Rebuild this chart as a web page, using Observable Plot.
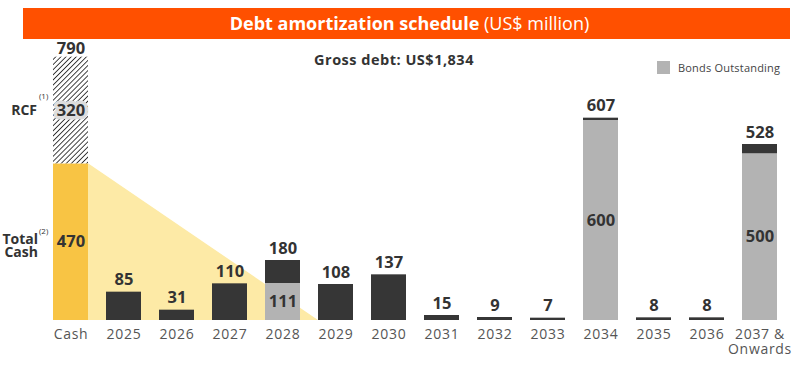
<!DOCTYPE html>
<html>
<head>
<meta charset="utf-8">
<script src="https://cdn.jsdelivr.net/npm/d3@7"></script>
<script src="https://cdn.jsdelivr.net/npm/@observablehq/plot@0.6"></script>
<style>
  html, body { margin: 0; padding: 0; background: #fff; }
  #wrap { position: relative; width: 803px; height: 367px; font-family: "Open Sans", sans-serif; }
  #banner { position: absolute; left: 23px; top: 8px; width: 767px; height: 31px; background: #FF5000;
            color: #fff; font-size: 18px; line-height: 31px; text-align: center; padding-left: 6px; box-sizing: border-box; }
  #banner b { font-weight: 700; }
  #gross { position: absolute; left: 250px; width: 292px; top: 50px; text-align: center;
           font-size: 14.5px; font-weight: 700; color: #333; letter-spacing: 0.5px; padding-right: 4px; box-sizing: border-box; }
  #legend { position: absolute; left: 657px; top: 60px; font-size: 11px; color: #444; display: flex; align-items: center; letter-spacing: 0.2px; }
  #legend span.sw { display: inline-block; width: 13px; height: 13px; background: #B3B3B3; margin-right: 8px; }
  #chart { position: absolute; left: 0; top: 0; }
  #chart g[aria-label="value"] text { letter-spacing: 1.2px; }
  #chart g[aria-label="x-axis tick label"] text { letter-spacing: 0.7px; }
</style>
</head>
<body>
<div id="wrap">
  <div id="chart"></div>
  <div id="banner"><b>Debt amortization schedule</b> (US$ million)</div>
  <div id="gross">Gross debt: US$1,834</div>
  <div id="legend"><span class="sw"></span>Bonds Outstanding</div>
</div>
<script>
const categories = ["Cash","2025","2026","2027","2028","2029","2030","2031","2032","2033","2034","2035","2036","2037 &\nOnwards"];
const totals = [790, 85, 31, 110, 180, 108, 137, 15, 9, 7, 607, 8, 8, 528];
const bonds  = [0, 0, 0, 0, 111, 0, 0, 0, 0, 0, 600, 0, 0, 500];
const totalCash = 470;
const rcf = 320;
const cashCoverEnd = "2029";

const debt = categories.map((c, i) => ({cat: c, total: totals[i], bonds: bonds[i]})).slice(1);
const bondRows = debt.filter(d => d.bonds > 0);
const cashRows = [{cat: "Cash", y1: 0, y2: totalCash, label: String(totalCash)}];
const rcfRows = [{cat: "Cash", y1: totalCash, y2: totalCash + rcf, label: String(rcf)}];

const darkC = "#363636", grayC = "#B3B3B3", yellowC = "#F8C444", lightY = "#FDEAA6";

function triangle(index, scales, values, dims) {
  const x0 = scales.x("Cash") + scales.x.bandwidth();
  const x1 = scales.x(cashCoverEnd);
  const yTop = scales.y(totalCash), y0 = scales.y(0);
  const g = d3.create("svg:g");
  g.append("polygon")
    .attr("points", `${x0},${yTop} ${x0},${y0} ${x1},${y0}`)
    .attr("fill", lightY);
  return g.node();
}

const valFont = {fontSize: 16.5, fontWeight: 700, fill: "#333", fontFamily: "Open Sans", ariaLabel: "value"};

const svg = Plot.plot({
  width: 803, height: 367,
  marginLeft: 42, marginRight: 16, marginTop: 50, marginBottom: 47,
  x: {domain: categories, paddingInner: 0.34, paddingOuter: 0.17, axis: null},
  y: {domain: [0, 810], axis: null},
  style: {fontFamily: "Open Sans", background: "transparent"},
  marks: [
    triangle,
    Plot.barY(cashRows, {x: "cat", y1: "y1", y2: "y2", fill: yellowC}),
    Plot.barY(rcfRows, {x: "cat", y1: "y1", y2: "y2", fill: "url(#hatch)"}),
    Plot.barY(bondRows, {x: "cat", y1: 0, y2: "bonds", fill: grayC}),
    Plot.barY(debt, {x: "cat", y1: "bonds", y2: "total", fill: darkC}),
    Plot.axisX({tickSize: 0, tickPadding: 7, fontSize: 14, color: "#555", lineHeight: 1.12, label: null}),
    // top value labels
    Plot.text(debt, {x: "cat", y: "total", text: d => String(d.total), dy: -12, ...valFont}),
    Plot.text(rcfRows, {x: "cat", y: "y2", text: d => String(d.y2), dy: -8, ...valFont}),
    // inner labels
    Plot.text(bondRows, {x: "cat", y: d => d.bonds / 2, text: d => String(d.bonds), ...valFont}),
    Plot.text(cashRows, {x: "cat", y: d => (d.y1 + d.y2) / 2, text: "label", ...valFont}),
    Plot.text(rcfRows, {x: "cat", y: d => (d.y1 + d.y2) / 2, text: "label", ...valFont, stroke: "#DDDDDD", strokeWidth: 7}),
    // left side labels
    Plot.text(rcfRows, {x: "cat", y: d => (d.y1 + d.y2) / 2, text: () => "RCF", dx: -34, textAnchor: "end", fontSize: 14, fontWeight: 700, fill: "#333"}),
    Plot.text(rcfRows, {x: "cat", y: d => (d.y1 + d.y2) / 2, text: () => "(1)", dx: -32, dy: -14, textAnchor: "start", fontSize: 8, fill: "#333"}),
    Plot.text(cashRows, {x: "cat", y: d => (d.y1 + d.y2) / 2, text: () => "Total\nCash", dx: -33, dy: 4, textAnchor: "end", fontSize: 14, fontWeight: 700, fill: "#333", lineHeight: 0.98}),
    Plot.text(cashRows, {x: "cat", y: d => (d.y1 + d.y2) / 2, text: () => "(2)", dx: -32, dy: -11, textAnchor: "start", fontSize: 8, fill: "#333"})
  ]
});

const defs = d3.select(svg).insert("defs", ":first-child");
const pat = defs.append("pattern").attr("id", "hatch").attr("patternUnits", "userSpaceOnUse")
  .attr("width", 3.6).attr("height", 3.6).attr("patternTransform", "rotate(45)");
pat.append("rect").attr("width", 3.6).attr("height", 3.6).attr("fill", "#fff");
pat.append("line").attr("x1", 0).attr("y1", 0).attr("x2", 0).attr("y2", 3.6).attr("stroke", "#222").attr("stroke-width", 1.7);

document.getElementById("chart").appendChild(svg);
</script>
</body>
</html>
